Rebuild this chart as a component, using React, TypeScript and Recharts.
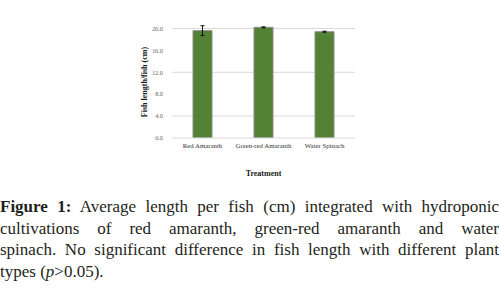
import React from 'react';
import { BarChart, Bar, XAxis, YAxis, CartesianGrid, ErrorBar, Label } from 'recharts';

const treatments = ['Red Amaranth', 'Green-red Amaranth', 'Water Spinach'];
const meanLength = [19.6, 20.2, 19.4];
const errLength = [0.9, 0.1, 0.1];
const yTicks = [0, 4, 8, 12, 16, 20];

const captionLines = [
  'Average length per fish (cm) integrated with hydroponic',
  'cultivations of red amaranth, green-red amaranth and water',
  'spinach. No significant difference in fish length with different plant',
];

document.body.style.margin = '0';

const data = treatments.map((t, i) => ({ name: t, length: meanLength[i], err: errLength[i] }));

const serif = '"Liberation Serif"';

function YTitle(props: any) {
  const vb = props.viewBox || {};
  const cy = vb.y + vb.height / 2;
  return (
    <text
      x={144}
      y={cy}
      transform={`rotate(-90, 144, ${cy})`}
      textAnchor="middle"
      dominantBaseline="central"
      style={{ fontFamily: serif, fontWeight: 'bold', fontSize: 8, fill: '#1a1a1a' }}
    >
      Fish length/fish (cm)
    </text>
  );
}

export default function App() {
  const justify: React.CSSProperties = { textAlign: 'justify', textAlignLast: 'justify', whiteSpace: 'nowrap' };
  return (
    <div style={{ position: 'relative', width: 499, height: 294, background: '#fff', overflow: 'hidden', fontFamily: serif }}>
      <BarChart
        width={499}
        height={180}
        data={data}
        margin={{ top: 26, right: 144, left: 0, bottom: 0 }}
        barSize={19}
      >
        <CartesianGrid vertical={false} horizontalValues={yTicks} stroke="#d9d9d9" strokeWidth={1} />
        <XAxis
          dataKey="name"
          height={42}
          axisLine={{ stroke: '#d9d9d9' }}
          tickLine={false}
          tickSize={0}
          tickMargin={5}
          interval={0}
          tick={{ fontFamily: serif, fontSize: 6.8, fill: '#333' }}
        >
          <Label
            value="Treatment"
            position="insideBottom"
            offset={4}
            style={{ fontFamily: serif, fontWeight: 'bold', fontSize: 8, fill: '#1a1a1a' }}
          />
        </XAxis>
        <YAxis
          width={172}
          domain={[0, 20.45]}
          allowDataOverflow
          ticks={yTicks}
          axisLine={false}
          tickLine={false}
          tickSize={0}
          tickMargin={9}
          tickFormatter={(v: number) => v.toFixed(1)}
          tick={{ fontFamily: serif, fontSize: 6.3, fill: '#666' }}
        >
          <Label content={YTitle} />
        </YAxis>
        <Bar dataKey="length" fill="#548235" stroke="#8a8a8a" strokeWidth={1} isAnimationActive={false}>
          <ErrorBar dataKey="err" width={2} stroke="#111" strokeWidth={1} />
        </Bar>
      </BarChart>
      <div
        style={{
          position: 'absolute',
          left: 0,
          top: 196,
          width: 499,
          fontFamily: serif,
          fontSize: 17,
          lineHeight: '21.7px',
          color: '#231f20',
        }}
      >
        <div style={justify}>
          <b>Figure 1:</b> {captionLines[0]}
        </div>
        <div style={justify}>{captionLines[1]}</div>
        <div style={justify}>{captionLines[2]}</div>
        <div>
          types (<i>p</i>&gt;0.05).
        </div>
      </div>
    </div>
  );
}
